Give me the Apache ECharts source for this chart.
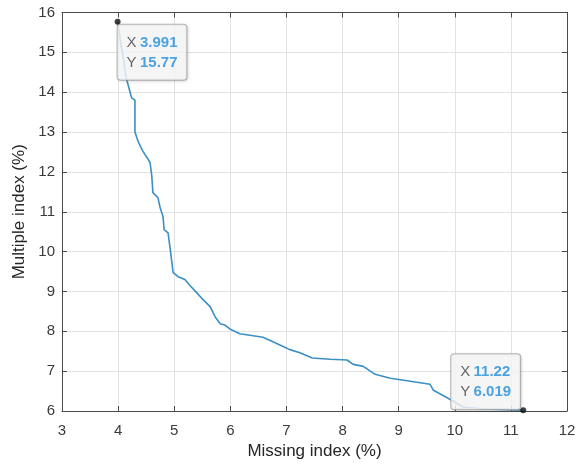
<!DOCTYPE html>
<html><head><meta charset="utf-8">
<script src="https://cdn.jsdelivr.net/npm/echarts@6/dist/echarts.min.js"></script>
<style>html,body{margin:0;padding:0;background:#fff}#c{width:586px;height:465px}</style>
</head><body><div id="c"></div>
<script>
const curveX = [3.991,4.05,4.10,4.14,4.24,4.30,4.30,4.36,4.44,4.52,4.57,4.60,4.62,4.71,4.75,4.80,4.82,4.89,4.93,4.98,5.07,5.19,5.28,5.40,5.51,5.64,5.73,5.82,5.90,5.99,6.17,6.35,6.58,6.76,6.94,7.06,7.24,7.46,7.78,8.08,8.19,8.37,8.58,8.85,9.15,9.56,9.62,9.92,10.15,10.5,11.22];
const curveY = [15.77,15.2,14.8,14.38,13.86,13.8,13.0,12.75,12.52,12.35,12.23,11.9,11.48,11.35,11.1,10.88,10.55,10.47,10.05,9.47,9.37,9.30,9.15,8.97,8.80,8.62,8.36,8.19,8.16,8.06,7.94,7.90,7.85,7.74,7.62,7.54,7.46,7.33,7.30,7.28,7.17,7.12,6.92,6.82,6.76,6.67,6.52,6.29,6.10,6.05,6.019];
const tipX = [3.991, 11.22];
const tipY = [15.77, 6.019];
const tipText = [['3.991','15.77'],['11.22','6.019']];
const xLabel = 'Missing index (%)';
const yLabel = 'Multiple index (%)';

const chart = echarts.init(document.getElementById('c'));
const font = 'Liberation Sans, Arial, sans-serif';
const axisCol = '#4a4a4a';
const tipPos = [[3, 6], [-69, -53]];
chart.setOption({
  animation: false,
  grid: {left: 62, right: 19, top: 12.5, bottom: 53, show: false},
  xAxis: [{
    type: 'value', min: 3, max: 12, interval: 1, position: 'bottom',
    name: xLabel, nameLocation: 'middle', nameGap: 32,
    nameTextStyle: {fontFamily: font, fontSize: 17, color: '#262626'},
    axisLine: {show: true, lineStyle: {color: axisCol, width: 1}},
    axisTick: {show: true, inside: true, length: 5, lineStyle: {color: axisCol}},
    axisLabel: {fontFamily: font, fontSize: 15, color: '#3a3a3a', margin: 12},
    splitLine: {show: true, lineStyle: {color: '#e3e3e3', width: 1}}
  }, {
    type: 'value', min: 3, max: 12, interval: 1, position: 'top',
    axisLine: {show: true, lineStyle: {color: axisCol, width: 1}},
    axisTick: {show: true, inside: true, length: 5, lineStyle: {color: axisCol}},
    axisLabel: {show: false}, splitLine: {show: false}
  }],
  yAxis: [{
    type: 'value', min: 6, max: 16, interval: 1, position: 'left',
    name: yLabel, nameLocation: 'middle', nameGap: 31, nameRotate: 90,
    nameTextStyle: {fontFamily: font, fontSize: 17, color: '#262626'},
    axisLine: {show: true, lineStyle: {color: axisCol, width: 1}},
    axisTick: {show: true, inside: true, length: 5, lineStyle: {color: axisCol}},
    axisLabel: {fontFamily: font, fontSize: 15, color: '#3a3a3a', margin: 7},
    splitLine: {show: true, lineStyle: {color: '#e3e3e3', width: 1}}
  }, {
    type: 'value', min: 6, max: 16, interval: 1, position: 'right',
    axisLine: {show: true, lineStyle: {color: axisCol, width: 1}},
    axisTick: {show: true, inside: true, length: 5, lineStyle: {color: axisCol}},
    axisLabel: {show: false}, splitLine: {show: false}
  }],
  series: [{
    type: 'line', showSymbol: false, symbol: 'none',
    data: curveX.map((x, i) => [x, curveY[i]]),
    lineStyle: {color: '#3a8fc4', width: 1.6}, z: 2
  }, {
    type: 'scatter', symbolSize: 6, itemStyle: {color: '#111'}, z: 5,
    data: tipX.map((x, i) => ({
      value: [x, tipY[i]],
      label: {
        show: true, position: tipPos[i],
        formatter: '{k|X} {v|' + tipText[i][0] + '}\n{k|Y} {v|' + tipText[i][1] + '}'
      }
    })),
    label: {
      backgroundColor: '#fafafa', borderColor: '#a8a8a8', borderWidth: 1, borderRadius: 3,
      padding: [8, 9, 7, 9], lineHeight: 20,
      shadowColor: 'rgba(0,0,0,0.15)', shadowBlur: 3, shadowOffsetX: 1, shadowOffsetY: 1,
      rich: {
        k: {fontFamily: font, fontSize: 15, color: '#404040', lineHeight: 20},
        v: {fontFamily: font, fontSize: 15, color: '#1f8ddb', fontWeight: 'bold', lineHeight: 20}
      }
    }
  }]
});
</script></body></html>
